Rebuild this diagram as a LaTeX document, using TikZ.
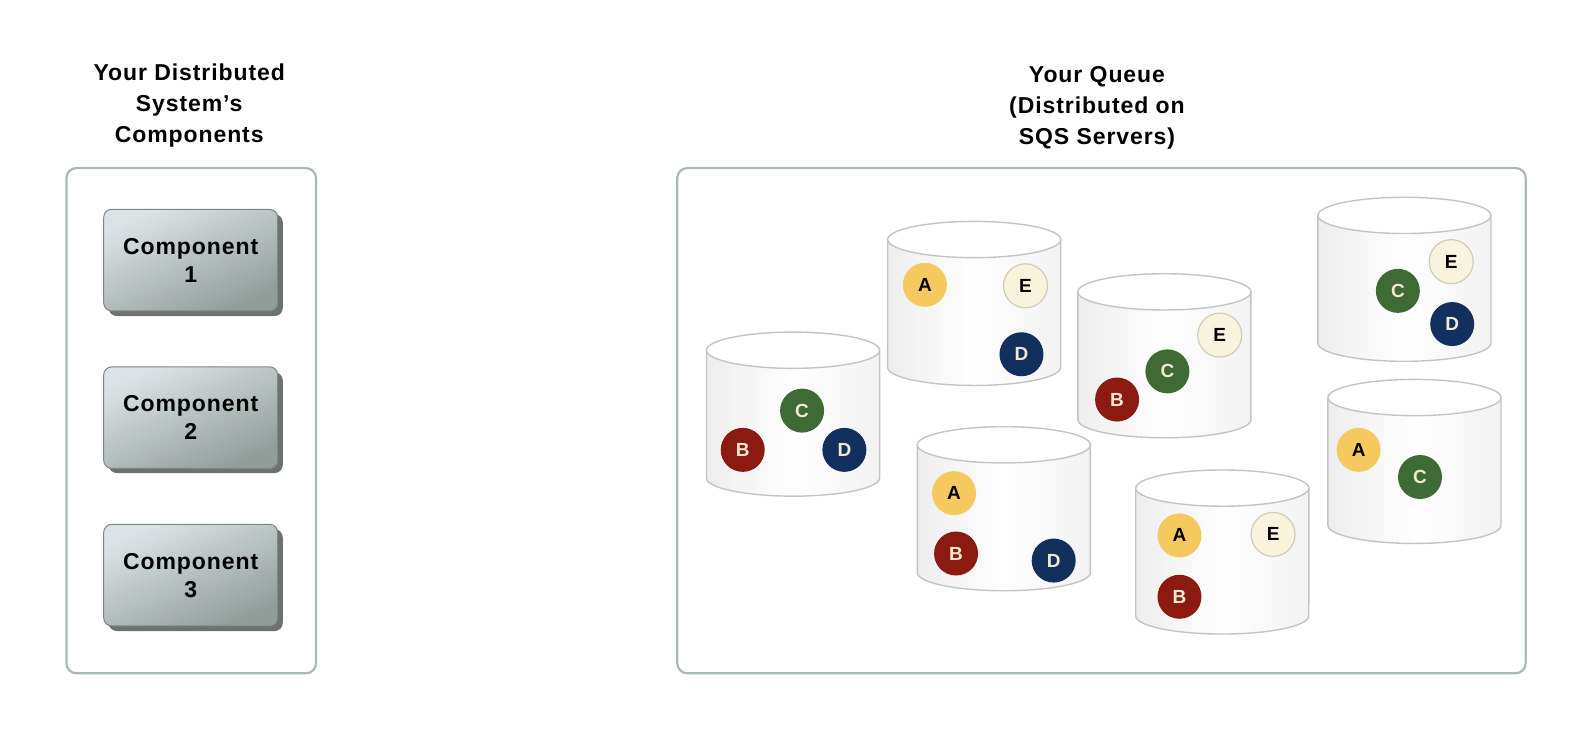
\documentclass[tikz,border=0pt]{standalone}
\usepackage{fontspec}
\setmainfont{Liberation Sans}
\newfontfamily\tfont[LetterSpace=4]{Liberation Sans}
\definecolor{framec}{HTML}{A9B9B3}
\definecolor{compTop}{HTML}{DCE3E6}
\definecolor{compBot}{HTML}{929D9A}
\definecolor{compEdge}{HTML}{7D8785}
\definecolor{shadowc}{HTML}{6C7270}
\definecolor{cylE}{HTML}{C4C4C4}
\definecolor{cylL}{HTML}{EDEDED}
\definecolor{cylR}{HTML}{F2F2F2}
\definecolor{ayellow}{HTML}{F6C95E}
\definecolor{bred}{HTML}{8B1A10}
\definecolor{cgreen}{HTML}{3E6A34}
\definecolor{dnavy}{HTML}{12305E}
\definecolor{ecream}{HTML}{F8F3DC}
\definecolor{eedge}{HTML}{CFCBB8}
\definecolor{lighttext}{HTML}{F0E8D0}
\newcommand\qcyl[2]{%
  \path[left color=cylL, right color=cylR, middle color=white, draw=cylE, line width=0.7pt]
    (#1-86,#2) -- (#1-86,#2+127) arc[start angle=180,end angle=360,x radius=43.27pt,y radius=9.06pt] -- (#1+86,#2) -- cycle;
  \draw[fill=white, draw=cylE, line width=0.7pt] (#1,#2) ellipse[x radius=43.27pt, y radius=9.06pt];
}
\begin{document}
\begin{tikzpicture}[x=0.50319pt,y=-0.50319pt,
  frame/.style={draw=framec, line width=1.1pt, rounded corners=5pt},
  title/.style={font=\tfont\bfseries\fontsize{11.5}{15.6}\selectfont, align=center},
  compbox/.style={rounded corners=4pt, draw=compEdge, line width=0.5pt, top color=compTop, bottom color=compBot, shading angle=25, minimum width=87pt, minimum height=50.8pt, align=center, font=\tfont\bfseries\fontsize{11.5}{14}\selectfont},
  compshadow/.style={fill=shadowc, rounded corners=4pt},
  ball/.style={circle, minimum size=22pt, inner sep=0pt, font=\bfseries\fontsize{9.5}{9.5}\selectfont},
  ballA/.style={ball, fill=ayellow, text=black},
  ballB/.style={ball, fill=bred, text=lighttext},
  ballC/.style={ball, fill=cgreen, text=lighttext},
  ballD/.style={ball, fill=dnavy, text=lighttext},
  ballE/.style={ball, fill=ecream, draw=eedge, line width=0.6pt, text=black}]
\useasboundingbox (0,0) rectangle (1568,723.4);
\fill[white] (0,0) rectangle (1568,723.4);
% titles
\node[title] (tl) at (188,105) {Your Distributed\\System’s\\Components};
\node[title] (tr) at (1090,107) {Your Queue\\(Distributed on\\SQS Servers)};
% frames
\draw[frame] (66,167) rectangle (314,669);
\draw[frame] (673,167) rectangle (1516,669);
% components
\fill[compshadow] (108,213) rectangle (281,314);
\node[compbox] (c1) at (189.5,258.5) {Component\\1};
\fill[compshadow] (108,370) rectangle (281,470);
\node[compbox] (c2) at (189.5,415) {Component\\2};
\fill[compshadow] (108,526) rectangle (281,627);
\node[compbox] (c3) at (189.5,571.5) {Component\\3};
% cylinders
\qcyl{1395.5}{214}
\qcyl{968}{238}
\qcyl{1157}{290}
\qcyl{788}{348}
\qcyl{1405.5}{395}
\qcyl{997.5}{442}
\qcyl{1214.5}{485}
% balls
\node[ballC] (s1c) at (797,408) {C};
\node[ballB] (s1b) at (738,447) {B};
\node[ballD] (s1d) at (839,447) {D};
\node[ballA] (s2a) at (919,283) {A};
\node[ballE] (s2e) at (1019,284) {E};
\node[ballD] (s2d) at (1015,352) {D};
\node[ballE] (s3e) at (1212,333) {E};
\node[ballC] (s3c) at (1160,369) {C};
\node[ballB] (s3b) at (1110,397) {B};
\node[ballE] (s4e) at (1442,260) {E};
\node[ballC] (s4c) at (1389,289) {C};
\node[ballD] (s4d) at (1443,322) {D};
\node[ballA] (s5a) at (1350,447) {A};
\node[ballC] (s5c) at (1411,474) {C};
\node[ballA] (s6a) at (948,490) {A};
\node[ballB] (s6b) at (950,550) {B};
\node[ballD] (s6d) at (1047,557) {D};
\node[ballA] (s7a) at (1172,532) {A};
\node[ballE] (s7e) at (1265,531) {E};
\node[ballB] (s7b) at (1172,593) {B};
\end{tikzpicture}
\end{document}
